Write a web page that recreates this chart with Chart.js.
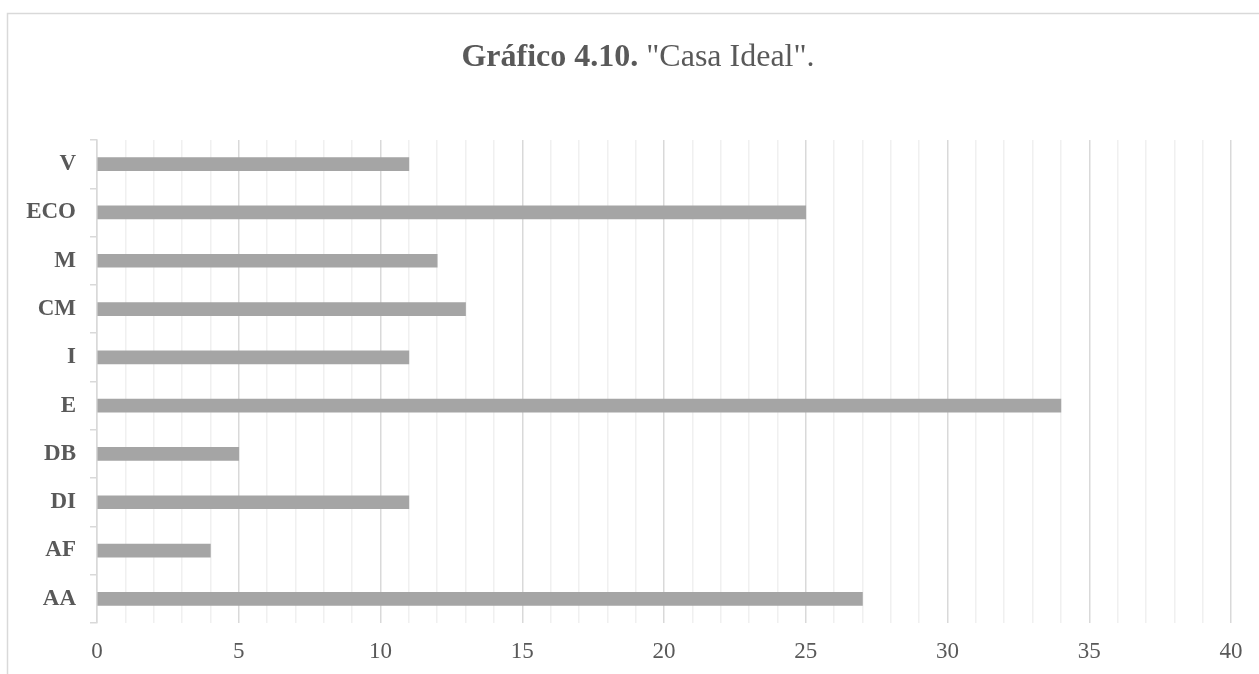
<!DOCTYPE html>
<html>
<head>
<meta charset="utf-8">
<script src="https://cdn.jsdelivr.net/npm/chart.js@4"></script>
<style>
  html, body { margin: 0; padding: 0; background: #fff; }
  #wrap { width: 1259px; height: 674px; }
</style>
</head>
<body>
<div id="wrap"><canvas id="casaChart" width="1259" height="674"></canvas></div>
<script>
// data
const categories = ['V', 'ECO', 'M', 'CM', 'I', 'E', 'DB', 'DI', 'AF', 'AA'];
const counts = [11, 25, 12, 13, 11, 34, 5, 11, 4, 27];
const xMin = 0;
const xMax = 40;
const titleBold = 'Gráfico 4.10.';
const titleRest = ' "Casa Ideal".';

// outer frame + mixed bold/regular title
const framePlugin = {
    id: 'frame',
    beforeDraw(chart) {
        const c = chart.ctx;
        c.save();
        c.fillStyle = '#fff';
        c.fillRect(0, 0, chart.width, chart.height);
        c.strokeStyle = '#d9d9d9';
        c.lineWidth = 1.5;
        c.strokeRect(7.5, 13.5, 1300, 700);
        c.restore();
    },
    afterDraw(chart) {
        const c = chart.ctx;
        c.save();
        const boldFont = 'bold 32px "Liberation Serif", "Times New Roman", serif';
        const normFont = '32px "Liberation Serif", "Times New Roman", serif';
        c.font = boldFont;
        const w1 = c.measureText(titleBold).width;
        c.font = normFont;
        const w2 = c.measureText(titleRest).width;
        let x = 638 - (w1 + w2) / 2;
        const y = 66;
        c.fillStyle = '#595959';
        c.textBaseline = 'alphabetic';
        c.font = boldFont;
        c.fillText(titleBold, x, y);
        c.font = normFont;
        c.fillText(titleRest, x + w1, y);
        c.restore();
    }
};

const ctx = document.getElementById('casaChart').getContext('2d');
const casaChart = new Chart(ctx, {
    type: 'bar',
    data: {
        labels: categories,
        datasets: [{
            label: 'Casa Ideal',
            data: counts,
            backgroundColor: '#a5a5a5',
            borderWidth: 0,
            barThickness: 13
        }]
    },
    options: {
        indexAxis: 'y',
        responsive: false,
        animation: false,
        layout: { padding: { left: 0, right: 28, top: 140, bottom: 0 } },
        plugins: {
            legend: { display: false },
            title: { display: false },
            tooltip: { enabled: false }
        },
        scales: {
            x: {
                min: xMin,
                max: xMax,
                afterFit: (scale) => { scale.height = 51; },
                ticks: {
                    stepSize: 1,
                    autoSkip: false,
                    maxRotation: 0,
                    padding: 15,
                    color: '#595959',
                    font: { family: '"Liberation Serif", "Times New Roman", serif', size: 23 },
                    callback: (v) => (v % 5 === 0 ? String(v) : '')
                },
                grid: {
                    drawTicks: false,
                    lineWidth: 1.5,
                    color: (c) => (c.tick && c.tick.value % 5 === 0 ? '#d9d9d9' : '#f0f0f0')
                },
                border: { display: false }
            },
            y: {
                afterFit: (scale) => { scale.width = 97; },
                ticks: {
                    padding: 14,
                    color: '#595959',
                    font: { family: '"Liberation Serif", "Times New Roman", serif', size: 23, weight: 'bold' }
                },
                grid: {
                    offset: true,
                    drawOnChartArea: false,
                    drawTicks: true,
                    tickLength: 7,
                    color: '#d9d9d9',
                    lineWidth: 1.5
                },
                border: { display: true, color: '#d9d9d9', width: 1.5 }
            }
        }
    },
    plugins: [framePlugin]
});
</script>
</body>
</html>
